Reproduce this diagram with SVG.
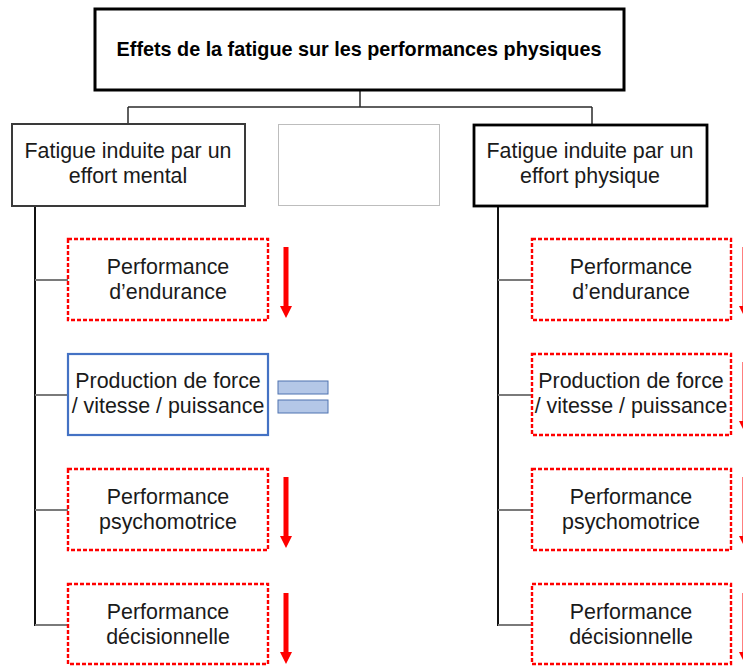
<svg xmlns="http://www.w3.org/2000/svg" width="743" height="666" viewBox="0 0 743 666">
  <style>
    text { font-family: "Liberation Sans", Arial, sans-serif; fill: #1a1a1a; text-anchor: middle; }
    .title { font-size: 19.8px; font-weight: bold; fill: #000; }
    .lbl { font-size: 21.4px; }
    .top { fill: #fff; stroke: #000; stroke-width: 3; }
    .cat-mental { fill: #fff; stroke: #3a3a3a; stroke-width: 2; }
    .cat-phys { fill: #fff; stroke: #000; stroke-width: 2.8; }
    .blank { fill: #fff; stroke: #bdbdbd; stroke-width: 1; }
    .down { fill: #fff; stroke: #ff0000; stroke-width: 2.4; stroke-dasharray: 4 2; }
    .same { fill: #fff; stroke: #4472c4; stroke-width: 2.2; }
    .tree { fill: none; stroke: #2b2b2b; stroke-width: 1.5; }
    .spine { fill: none; stroke: #111; stroke-width: 2; }
    .branch { fill: none; stroke: #7a7a7a; stroke-width: 2; }
    .arrow { fill: #ff0000; }
    .eq { fill: #b4c7e7; stroke: #4f73b0; stroke-width: 1; }
  </style>
  <defs>
    <!-- downward red arrow, origin at top centre of the shaft -->
    <path id="arrow-down" class="arrow" d="M -2.5 0 H 2.5 V 59 H 6 L 0 71 L -6 59 H -2.5 Z"/>
  </defs>

  <!-- connectors -->
  <g id="connectors">
    <path class="tree" d="M 360 90 V 107 M 128 107 H 592 M 128 107 V 124 M 592 107 V 125"/>
    <path class="spine" d="M 35 206 V 626"/>
    <path class="spine" d="M 498 206 V 626"/>
    <path class="branch" d="M 35 280 H 68 M 35 395 H 68 M 35 510 H 68 M 35 625 H 68"/>
    <path class="branch" d="M 498 280 H 532 M 498 395 H 532 M 498 510 H 532 M 498 625 H 532"/>
  </g>

  <g id="root">
    <rect class="top" x="95" y="9" width="529" height="81"/>
    <text class="title" x="359" y="56">Effets de la fatigue sur les performances physiques</text>
  </g>

  <g id="mental">
    <rect class="cat-mental" x="12" y="124" width="233" height="82"/>
    <text class="lbl" x="128" y="158">Fatigue induite par un</text>
    <text class="lbl" x="128" y="183">effort mental</text>
  </g>

  <g id="blank">
    <rect class="blank" x="278.5" y="124.5" width="161" height="81"/>
  </g>

  <g id="physique">
    <rect class="cat-phys" x="474" y="125" width="233" height="81"/>
    <text class="lbl" x="590" y="158">Fatigue induite par un</text>
    <text class="lbl" x="590" y="183">effort physique</text>
  </g>

  <!-- mental effort column -->
  <g id="m-endurance">
    <rect class="down" x="68" y="239" width="200" height="81"/>
    <text class="lbl" x="168" y="274">Performance</text>
    <text class="lbl" x="168" y="299">d’endurance</text>
    <use href="#arrow-down" x="286" y="247"/>
  </g>
  <g id="m-force">
    <rect class="same" x="68" y="354" width="200" height="81"/>
    <text class="lbl" x="168" y="388">Production de force</text>
    <text class="lbl" x="168" y="413">/ vitesse / puissance</text>
    <rect class="eq" x="278" y="381" width="50" height="13"/>
    <rect class="eq" x="278" y="400" width="50" height="13"/>
  </g>
  <g id="m-psychomotrice">
    <rect class="down" x="68" y="469" width="200" height="81"/>
    <text class="lbl" x="168" y="504">Performance</text>
    <text class="lbl" x="168" y="529">psychomotrice</text>
    <use href="#arrow-down" x="286" y="477"/>
  </g>
  <g id="m-decision">
    <rect class="down" x="68" y="584" width="200" height="80"/>
    <text class="lbl" x="168" y="619">Performance</text>
    <text class="lbl" x="168" y="644">décisionnelle</text>
    <use href="#arrow-down" x="286" y="593"/>
  </g>

  <!-- physical effort column -->
  <g id="p-endurance">
    <rect class="down" x="532" y="239" width="199" height="81"/>
    <text class="lbl" x="631" y="274">Performance</text>
    <text class="lbl" x="631" y="299">d’endurance</text>
    <use href="#arrow-down" x="745" y="247"/>
  </g>
  <g id="p-force">
    <rect class="down" x="532" y="354" width="199" height="81"/>
    <text class="lbl" x="631" y="388">Production de force</text>
    <text class="lbl" x="631" y="413">/ vitesse / puissance</text>
    <use href="#arrow-down" x="745" y="362"/>
  </g>
  <g id="p-psychomotrice">
    <rect class="down" x="532" y="469" width="199" height="81"/>
    <text class="lbl" x="631" y="504">Performance</text>
    <text class="lbl" x="631" y="529">psychomotrice</text>
    <use href="#arrow-down" x="745" y="477"/>
  </g>
  <g id="p-decision">
    <rect class="down" x="532" y="584" width="199" height="80"/>
    <text class="lbl" x="631" y="619">Performance</text>
    <text class="lbl" x="631" y="644">décisionnelle</text>
    <use href="#arrow-down" x="745" y="593"/>
  </g>
</svg>
